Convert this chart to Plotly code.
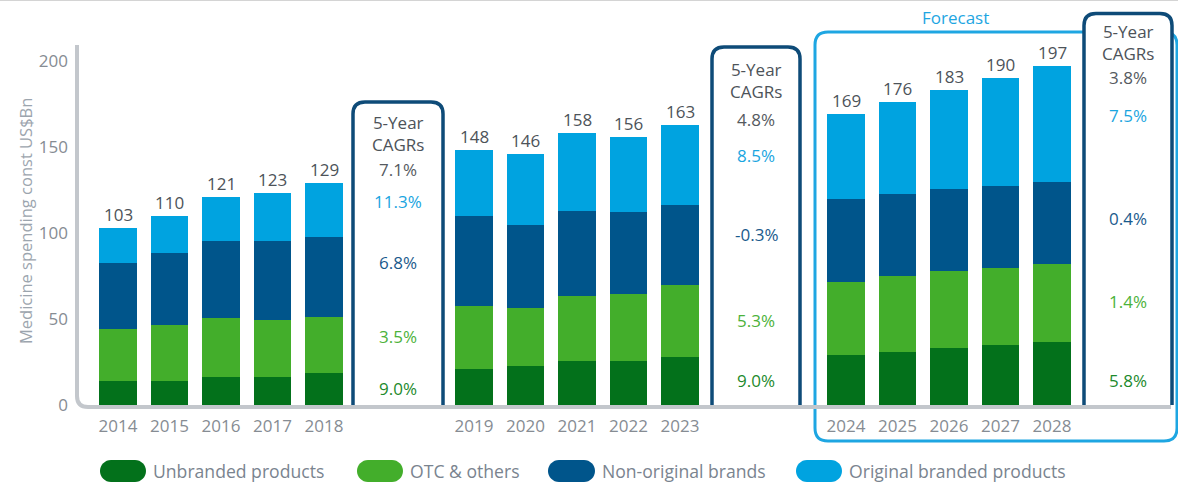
import plotly.graph_objects as go

# ---- data (US$Bn, constant) ----
years = ['2014', '2015', '2016', '2017', '2018',
         '2019', '2020', '2021', '2022', '2023',
         '2024', '2025', '2026', '2027', '2028']
totals = [103, 110, 121, 123, 129, 148, 146, 158, 156, 163, 169, 176, 183, 190, 197]
unbranded = [13.7, 14.1, 16.2, 16.2, 18.6, 21.1, 22.5, 25.3, 25.4, 28.0, 29.0, 30.9, 32.9, 34.7, 36.7]
otc_others = [30.4, 32.5, 34.6, 33.5, 32.3, 36.4, 33.9, 38.1, 38.9, 42.0, 42.8, 44.0, 44.9, 45.0, 45.1]
non_original = [38.2, 41.9, 44.7, 45.7, 46.6, 52.3, 48.5, 49.6, 47.9, 46.1, 47.8, 47.5, 47.6, 47.6, 47.6]
original = [20.7, 21.5, 25.5, 27.6, 31.5, 38.2, 41.1, 45.0, 43.8, 46.9, 49.4, 53.6, 57.6, 62.7, 67.6]

series_names = ['Unbranded products', 'OTC & others', 'Non-original brands', 'Original branded products']

# 5-year CAGRs (%), one value per period box
cagr_total = [7.1, 4.8, 3.8]
cagr_original = [11.3, 8.5, 7.5]
cagr_non_original = [6.8, -0.3, 0.4]
cagr_otc = [3.5, 5.3, 1.4]
cagr_unbranded = [9.0, 9.0, 5.8]

# ---- colours ----
C_UNBR = '#03711b'
C_OTC = '#43ae2b'
C_NON = '#00558b'
C_ORIG = '#00a3e0'
C_BOX = '#0e4b78'
C_FORE = '#1ea6e2'
C_AXIS = '#c3c7cc'
C_TXT = '#4d5359'
C_TICK = '#868c93'

# ---- layout geometry (pixels) ----
W, H = 1178, 490
ML, MR, MT, MB = 77, 0, 44, 85
PX_PER_X = 51.5
X0_PX = 118
PX_PER_Y = 1.72
PLOT_W = W - ML - MR
PLOT_H = H - MT - MB
BASE = H - MB


def xd(px):
    return (px - X0_PX) / PX_PER_X


def xp(px):
    return (px - ML) / PLOT_W


def yp(py):
    return (BASE - py) / PLOT_H


def P(px, py):
    return f"{xp(px):.5f},{yp(py):.5f}"


# bar x positions: three groups of five with gaps for the CAGR boxes
group_starts = [0, xd(474), xd(846)]
xpos = [group_starts[i // 5] + i % 5 for i in range(len(years))]

fig = go.Figure()
for name, vals, col in zip(series_names,
                           [unbranded, otc_others, non_original, original],
                           [C_UNBR, C_OTC, C_NON, C_ORIG]):
    fig.add_trace(go.Bar(x=xpos, y=vals, name=name, width=0.72,
                         marker=dict(color=col, line=dict(width=0)),
                         hovertemplate='%{y}<extra>' + name + '</extra>'))

shapes = []
annotations = []


def label(text, px, py, size=17, color=C_TXT, xanchor='center', **kw):
    annotations.append(dict(text=text, xref='paper', yref='paper', x=xp(px), y=yp(py),
                            xanchor=xanchor, yanchor='middle', showarrow=False,
                            font=dict(size=size, color=color), **kw))


def open_box(x0, x1, top, bottom, r):
    return (f"M {P(x0, bottom)} L {P(x0, top + r)} Q {P(x0, top)} {P(x0 + r, top)} "
            f"L {P(x1 - r, top)} Q {P(x1, top)} {P(x1, top + r)} L {P(x1, bottom)}")


def round_rect(x0, x1, top, bottom, r):
    return (f"M {P(x0 + r, top)} L {P(x1 - r, top)} Q {P(x1, top)} {P(x1, top + r)} "
            f"L {P(x1, bottom - r)} Q {P(x1, bottom)} {P(x1 - r, bottom)} "
            f"L {P(x0 + r, bottom)} Q {P(x0, bottom)} {P(x0, bottom - r)} "
            f"L {P(x0, top + r)} Q {P(x0, top)} {P(x0 + r, top)} Z")


def pill(x0, x1, cy, r):
    k = 0.5523 * r
    a, b = x0 + r, x1 - r
    return (f"M {P(a, cy - r)} L {P(b, cy - r)} "
            f"C {P(b + k, cy - r)} {P(b + r, cy - k)} {P(b + r, cy)} "
            f"C {P(b + r, cy + k)} {P(b + k, cy + r)} {P(b, cy + r)} "
            f"L {P(a, cy + r)} "
            f"C {P(a - k, cy + r)} {P(a - r, cy + k)} {P(a - r, cy)} "
            f"C {P(a - r, cy - k)} {P(a - k, cy - r)} {P(a, cy - r)} Z")


# forecast frame
shapes.append(dict(type='path', xref='paper', yref='paper', layer='above',
                   path=round_rect(815, 1177, 32, 441, 13),
                   line=dict(color=C_FORE, width=3)))
label('Forecast', 955, 17, color=C_FORE)

# CAGR boxes: x extent, top, and text rows (pixel y)
boxes = [
    dict(x0=353, x1=443, top=102, head=133.5, rows=[169.3, 201.7, 262.7, 336.7, 388.3]),
    dict(x0=712, x1=800, top=47, head=80.5, rows=[119, 155, 234, 320.7, 380]),
    dict(x0=1084, x1=1172, top=13.5, head=42.2, rows=[77.3, 115.7, 218.7, 301.7, 380]),
]
row_colors = ['#555a60', '#1aa5e0', '#1a5a8c', '#4cb23a', '#1c8a2c']
for i, b in enumerate(boxes):
    shapes.append(dict(type='path', xref='paper', yref='paper', layer='above',
                       path=open_box(b['x0'], b['x1'], b['top'], BASE, 12),
                       line=dict(color=C_BOX, width=3.5), fillcolor='white'))
    cx = (b['x0'] + b['x1']) / 2
    label('5-Year<br>CAGRs', cx, b['head'])
    vals = [cagr_total[i], cagr_original[i], cagr_non_original[i], cagr_otc[i], cagr_unbranded[i]]
    for v, ry, col in zip(vals, b['rows'], row_colors):
        label(f'{v:.1f}%', cx, ry, color=col)

# rounded L-shaped axis line
shapes.append(dict(type='path', xref='paper', yref='paper', layer='above',
                   path=f"M {P(77, 45)} L {P(77, 396)} Q {P(77, 407)} {P(88, 407)} L {P(1171, 407)}",
                   line=dict(color=C_AXIS, width=4)))
# thin border at the very top
shapes.append(dict(type='line', xref='paper', yref='paper', x0=xp(0), x1=xp(W), y0=yp(0.5), y1=yp(0.5),
                   line=dict(color='#d4d4d4', width=1)))

# totals above bars
for x, t in zip(xpos, totals):
    annotations.append(dict(text=str(t), x=x, y=t, xref='x', yref='y',
                            xanchor='center', yanchor='bottom',
                            yshift=0, showarrow=False, font=dict(size=17, color=C_TXT)))

# y axis title
label('Medicine spending const US$Bn', 25, 221, size=16.5, color='#9ca5ae', textangle=-90)

# custom legend with pill markers
legend_pills = [(100, 146), (357, 403), (548, 595), (796, 842)]
for name, col, (a, b) in zip(series_names, [C_UNBR, C_OTC, C_NON, C_ORIG], legend_pills):
    shapes.append(dict(type='path', xref='paper', yref='paper', layer='above',
                       path=pill(a, b, 471, 11), line=dict(width=0), fillcolor=col))
    label(name, b + 5, 471, size=17.6, color='#7a848f', xanchor='left')

fig.update_layout(
    width=W, height=H,
    margin=dict(l=ML, r=MR, t=MT, b=MB, pad=0),
    barmode='stack',
    showlegend=False,
    plot_bgcolor='white', paper_bgcolor='white',
    font=dict(family='Open Sans, sans-serif', color=C_TXT),
    xaxis=dict(range=[xd(ML), xd(W - MR)], tickvals=xpos, ticktext=years,
               showgrid=False, zeroline=False, showline=False, ticks='',
               tickfont=dict(size=17, color=C_TICK), ticklabelstandoff=9, fixedrange=True),
    yaxis=dict(range=[0, PLOT_H / PX_PER_Y], tickvals=[0, 50, 100, 150, 200],
               showgrid=False, zeroline=False, showline=False, ticks='',
               tickfont=dict(size=17, color=C_TICK), ticklabelstandoff=8, fixedrange=True),
    shapes=shapes,
    annotations=annotations,
)

# drop the default 8px page margin so the figure sits at the window origin
fig.write_html("out.html", config={'displayModeBar': False},
               post_script="document.body.style.margin='0';")
